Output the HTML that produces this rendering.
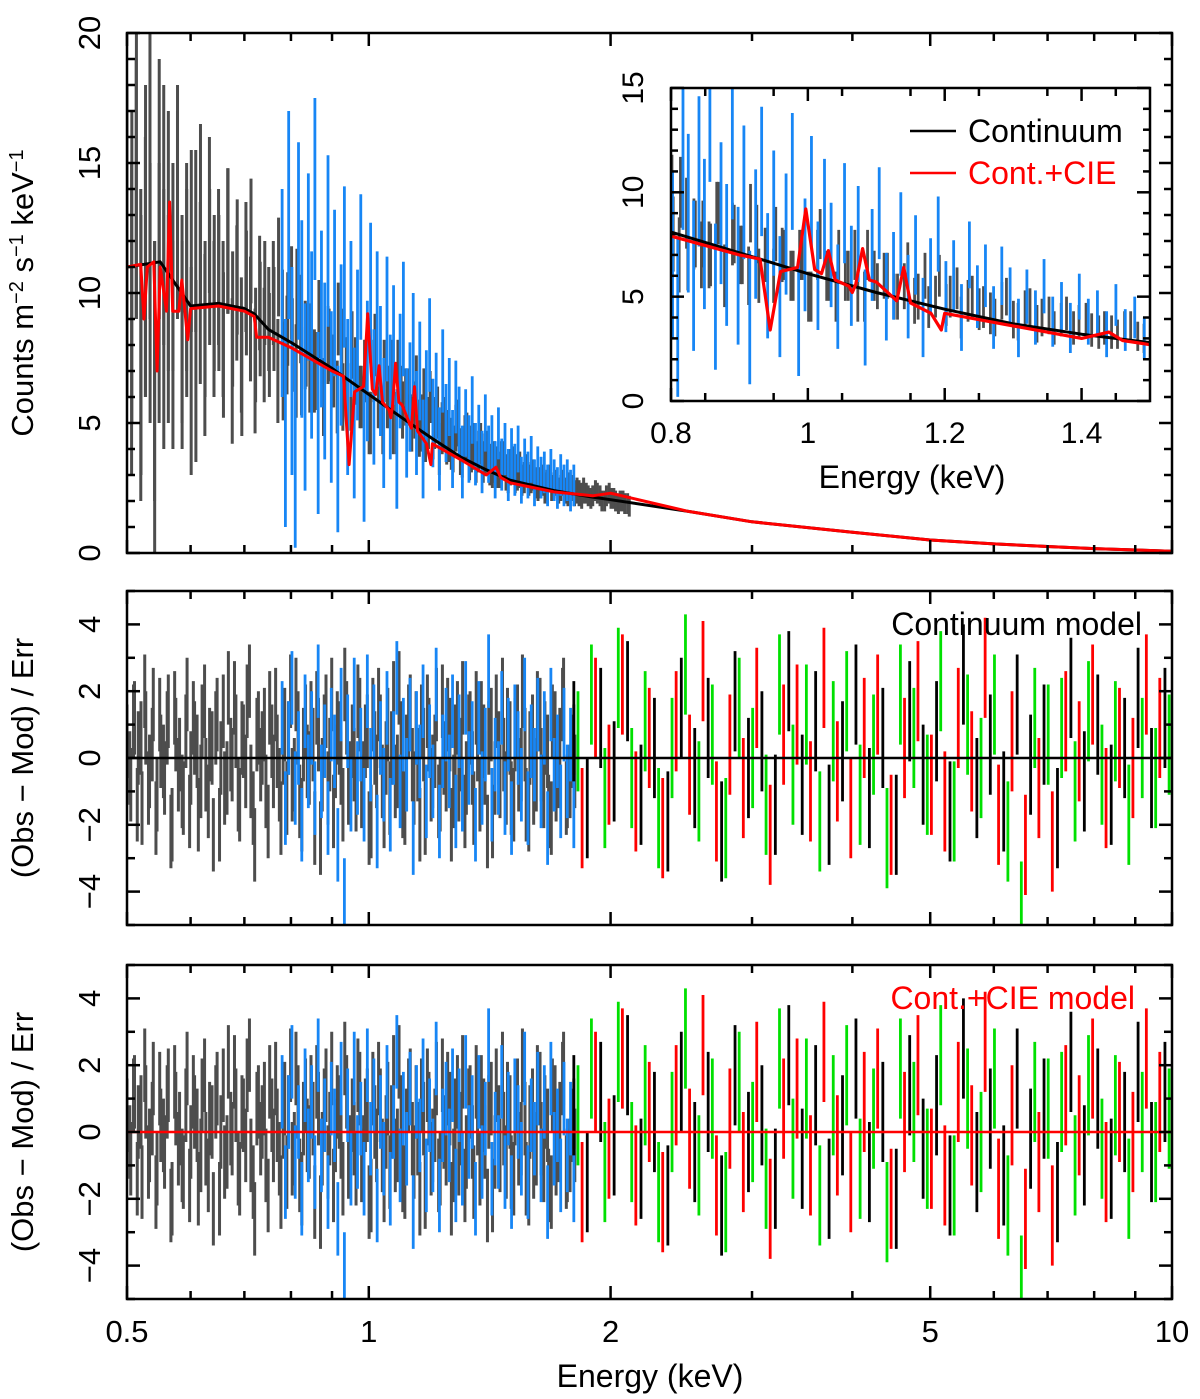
<!DOCTYPE html>
<html><head><meta charset="utf-8"><style>
html,body{margin:0;padding:0;background:#fff}
svg{display:block;font-family:"Liberation Sans",Arial,sans-serif}
</style></head><body>
<svg id="fig" width="1200" height="1399" viewBox="0 0 1200 1399" xmlns="http://www.w3.org/2000/svg">
<defs>
<clipPath id="cMain"><rect x="127" y="33" width="1045" height="520"/></clipPath>
<clipPath id="cR1"><rect x="127" y="591" width="1045" height="334"/></clipPath>
<clipPath id="cR2"><rect x="127" y="965" width="1045" height="334"/></clipPath>
<clipPath id="cIn"><rect x="671" y="88" width="479" height="313"/></clipPath>
</defs>
<g id="main"></g>
<g id="r1"></g>
<g id="r2"></g>
<g id="inset"></g>
</svg>
<script>
// ---------- data ----------
const greyRange=[0.5,2.1];
const greyRange2=[0.507,2.11];
const greyVals=[12,9,14,8,11,15,7,10,13,9,11,14,8,10,12,7,13,9,11,10,10,8,12,9,11,7,10,12,8,9,10,8,9,11,7,9,8,10,7,8,8,7,9,6,8,7,9,6,7,8,7,6,7,5,8,6,7,6,5,7,5.5,6,5,6.5,5,4.5,6,5,4,5,4.5,4,5,3.8,4.5,4,3.5,4.2,3.8,3.4,3.5,3.2,3.6,3,3.4,3.1,2.8,3.2,2.9,2.7,2.7,2.5,2.9,2.6,2.4,2.7,2.3,2.5,2.4,2.2,2.3,2.1,2.4,2.2,2.0,2.3,2.1,1.9,2.0,1.9];
const greyVals2=[11,15,8,12,10,6,14,9,12,8,13,9,11,7,12,10,8,13,9,11,9,12,7,10,8,11,9,7,10,8,9,10,7,9,8,10,7,9,8,7,7,9,6,8,7,6,8,7,6,7,6,7,5,7,6,5,6,7,5,6,6,5,5.5,4.8,6,5,4.6,5.4,4.8,4.4,4.2,4.8,3.9,4.4,3.7,4.1,3.9,3.5,3.9,3.3,3.3,3.6,3.1,3.3,3.0,3.2,2.9,2.8,3.0,2.6,2.8,2.6,2.5,2.7,2.5,2.4,2.6,2.3,2.3,2.4,2.2,2.2,2.3,2.0,2.2,2.1,2.0,2.0,1.9,1.8];
const greyErrs=[6,6,5,6,5,6,5,5,5,4,4,4,4,4,3.5,3.5,3.5,3,3,3,3,2.8,2.8,2.6,2.6,2.5,2.4,2.4,2.2,2.2,2,2,2,1.9,1.9,1.8,1.8,1.7,1.7,1.6,1.6,1.5,1.5,1.5,1.4,1.4,1.4,1.3,1.3,1.3,1.2,1.2,1.2,1.2,1.2,1.2,1.2,1.2,1.2,1.2,1.1,1.1,1.1,1.1,1.1,1,1,1,1,1,1,0.9,0.9,0.9,0.9,0.9,0.8,0.8,0.8,0.8,0.8,0.7,0.7,0.7,0.7,0.7,0.6,0.6,0.6,0.6,0.6,0.6,0.5,0.5,0.5,0.5,0.5,0.5,0.5,0.5,0.4,0.4,0.4,0.4,0.4,0.4,0.4,0.4,0.4,0.4];
const blueRange=[0.78,1.8];
const blueVals=[10,5,13,7,4,12,9,6,11,8,14,5,9,7,12,6,10,4,8,11,6,9,5,8,11,4,7,10,6,9,7,5,9,6,8,4,7,9,5,6,8,5,7,4,6,8,5,6,4,7,5,6,4,6,5,3.5,5,4,5.5,3.8,4.5,3.5,5,3.8,4.2,3.2,4.6,3.4,4,3,3.8,3.2,4,2.8,3.5,3,3.6,2.7,3.3,2.9,3.1,2.6,3.2,2.8,2.5,3,2.6,2.8,2.4,2.6];
const blueErrs=[4,4,4,4,3.8,3.8,3.8,3.6,3.6,3.6,3.5,3.5,3.4,3.4,3.3,3.3,3.2,3.2,3.1,3.1,3,3,2.9,2.9,2.8,2.8,2.7,2.7,2.6,2.6,2.5,2.5,2.4,2.4,2.3,2.3,2.2,2.2,2.1,2.1,2,2,1.9,1.9,1.8,1.8,1.7,1.7,1.6,1.6,1.5,1.5,1.5,1.4,1.4,1.4,1.3,1.3,1.3,1.2,1.2,1.2,1.1,1.1,1.1,1.1,1,1,1,1,1,1,0.9,0.9,0.9,0.9,0.9,0.9,0.8,0.8,0.8,0.8,0.8,0.8,0.8,0.8,0.8,0.8,0.8,0.8];
const contE=[0.5,0.55,0.6,0.65,0.7,0.72,0.75,0.8,0.9,1.0,1.1,1.2,1.3,1.4,1.5,1.7,1.9,2.0,2.5,3,4,5,6,7,8,10];
const contV=[11,11.2,9.5,9.6,9.4,9.2,8.6,8.1,7.1,6.1,5.2,4.4,3.7,3.2,2.8,2.4,2.15,2.05,1.6,1.2,0.8,0.5,0.35,0.25,0.17,0.07];
const cieE=[0.5,0.52,0.525,0.53,0.54,0.545,0.55,0.56,0.565,0.57,0.58,0.585,0.59,0.595,0.6,0.65,0.7,0.72,0.725,0.75,0.8,0.9,0.93,0.945,0.96,0.985,0.997,1.01,1.02,1.03,1.04,1.06,1.065,1.07,1.08,1.09,1.1,1.13,1.14,1.15,1.18,1.195,1.2,1.3,1.4,1.44,1.46,1.5,1.7,1.9,2.0,2.5,3,4,5,6,7,8,10];
const cieV=[11,11.1,9,11,11.2,7,11,9.3,13.5,9.3,9.3,10.5,9.4,8.2,9.4,9.5,9.3,9.1,8.3,8.3,7.9,7.0,6.8,3.4,6.2,6.4,9.2,6.3,6.1,7.2,5.8,5.5,5.2,5.6,7.3,5.8,5.7,4.8,6.4,4.7,4.2,3.4,4.2,3.6,3.0,3.3,2.9,2.7,2.35,2.2,2.3,1.6,1.2,0.8,0.5,0.35,0.25,0.17,0.07];
const resGreyRange=[0.5,1.8];
const resGreyRange2=[0.504,1.805];
const resGrey=[0.5,-0.8,1.2,0.3,-1.5,0.9,-0.4,1.6,-1.1,0.2,-0.6,1.4,-2.0,0.7,0.1,-1.2,1.9,-0.3,0.6,-1.7,1.1,-0.5,0.4,-2.3,1.3,0.0,-0.9,2.1,-0.2,0.8,-1.4,0.5,1.7,-0.7,-2.6,0.9,0.3,-1.0,1.5,-0.4,0.2,-1.8,1.0,0.6,-0.8,1.9,-1.3,0.4,-0.1,1.2,-2.1,0.7,-0.5,1.4,0.1,-1.6,0.9,-0.3,2.2,-0.9,0.5,-1.1,1.3,-0.6,0.8,-1.9,0.3,1.6,-0.7,0.0,-1.2,1.8,-0.4,0.6,-1.5,1.1,-0.2,0.9,-2.0,0.4,1.4,-0.8,0.2,-1.3,1.7,-0.5,0.7,-1.0,1.2,0.1,-1.6,0.8,-0.3,1.5,-1.1,0.5,-2.2,1.0,-0.6,0.3,1.9,-0.9,0.6,-1.4,1.1,-0.2,0.4,-1.7,0.8,-0.5,1.3,-1.0,0.2,-1.8,0.9,-0.4,1.6,-1.2,-0.7,0.5];
const resGrey2=[-0.3,1.1,-1.4,0.6,2.0,-0.9,0.4,-1.8,1.3,-0.1,0.9,-2.2,1.5,-0.5,-1.0,0.8,-1.6,1.2,0.2,-0.7,1.7,-1.3,0.3,0.9,-2.0,1.4,-0.6,0.1,1.8,-1.1,0.6,-0.4,2.3,-1.5,0.7,-0.2,1.0,-1.9,0.5,1.6,-0.8,0.3,-1.2,2.0,-0.5,0.9,-1.7,1.1,-0.3,0.4,1.5,-2.4,0.8,-0.9,1.9,-0.1,0.6,-1.4,1.2,-0.6,-0.2,1.7,-1.0,0.5,-2.1,1.3,-0.4,0.8,-1.6,1.0,0.3,-0.7,2.1,-1.3,0.2,1.4,-0.9,-0.2,1.1,-1.8,0.7,-0.4,1.6,-1.1,0.0,1.3,-2.0,0.5,-0.8,1.8,-0.6,0.9,-1.5,0.4,1.2,-0.3,0.6,-1.9,1.4,-0.7,0.1,1.0,-1.2,0.7,-0.5,2.0,-1.4,0.3,-0.9,1.5,-0.2,0.6,-1.6,1.1,-0.8,0.4,1.9,-1.0,0.2,-0.4];
const resBlueRange=[0.78,1.8];
const resBlue=[1.2,-1.5,0.6,2.1,-0.9,0.3,-2.0,1.4,-0.4,0.9,-1.2,2.3,-0.7,0.5,-1.8,1.0,0.2,-2.6,1.6,-4.1,0.8,-1.1,1.9,-0.6,0.4,-1.4,2.0,-0.2,1.1,-2.2,0.6,-0.8,1.5,-1.7,0.3,2.4,-1.0,0.7,-0.5,1.3,-2.4,0.9,-0.1,1.7,-1.3,0.5,-0.7,2.2,-1.9,0.2,1.0,-0.4,1.4,-1.6,0.8,-1.1,1.8,-0.3,0.6,-2.0,1.2,-0.9,0.4,2.6,-1.4,0.1,-0.6,1.5,-1.2,0.7,-1.8,1.1,0.3,-0.8,1.9,-1.5,0.5,-0.2,1.3,-1.0,0.9,-2.1,1.6,-0.5,0.2,-1.3,1.0,-0.7,0.4,-1.6];
const resHiRange=[1.8,9.8];
const resBlack=[0.8,-1.5,1.2,-0.4,2.0,-1.1,0.3,-1.9,1.5,-0.6,0.9,-2.2,1.7,-0.3,0.5,-1.4,2.3,-0.8,1.1,-1.7,0.2,1.9,-1.2,0.6,-2.0,1.4,-0.5,0.8,-1.6,2.5,-0.9,0.4,-1.3,1.6,-0.2,0.7,-1.8,2.1,-0.7,1.0,-1.1,0.3,1.8,-0.6,1.2];
const resRed=[-1.8,1.5,-0.5,2.2,-1.3,0.6,-2.1,1.1,-0.2,2.6,-1.6,0.4,-0.9,1.8,-2.3,0.7,1.3,-1.0,2.4,-0.4,-1.5,0.9,1.6,-2.0,0.3,2.0,-0.8,-1.3,1.2,-0.1,2.7,-1.7,0.5,-2.6,-0.9,-2.5,1.1,0.2,1.9,-1.2,0.6,-0.3,2.2,0.9,1.5];
const resGreen=[0.5,1.9,-1.2,2.4,-0.6,1.1,-1.8,0.3,2.8,-1.0,0.7,-2.1,1.5,0.0,-1.4,2.2,-0.5,1.3,-1.9,0.8,1.7,-1.1,0.4,-2.4,1.9,0.6,-0.8,2.3,-1.6,1.0,-0.3,1.6,-2.2,-4.6,1.2,0.7,0.9,-1.0,1.4,-0.5,0.8,-1.7,0.3,-0.6,0.4];
const mainYTicks=[0,5,10,15,20];
const resYTicks=[-4,-2,0,2,4];
const xTickVals=[0.5,1,2,5,10];
const xTickLabels=["0.5","1","2","5","10"];
const xMinor=[0.6,0.7,0.8,0.9,3,4,6,7,8,9];
const insetXTicks=[0.8,1.0,1.2,1.4];
const insetXLabels=["0.8","1","1.2","1.4"];
const insetYTicks=[0,5,10,15];

// ---------- helpers ----------
const NS="http://www.w3.org/2000/svg";
function mk(parent,tag,attrs,text){const e=document.createElementNS(NS,tag);for(const k in attrs)e.setAttribute(k,attrs[k]);if(text!==undefined)e.textContent=text;parent.appendChild(e);return e;}
const X0=127,X1=1172;
const xL=E=>X0+(X1-X0)*Math.log10(E/0.5)/Math.log10(20);
const yMain=v=>553-26*v;
const yR1=v=>758-33.4*v;
const yR2=v=>1132-33.4*v;
const xIn=E=>671+(E-0.8)/0.7*479;
const yIn=v=>401-20.87*v;
const gridE=(r,n,i)=>r[0]*Math.pow(r[1]/r[0],i/(n-1));
const C={grey:"#4d4d4d",blue:"#1786f5",red:"#ff0000",green:"#00e000",black:"#000"};

function bars(g,range,vals,errs,xf,yf,color,name,clip,filt,w){
  const gg=mk(g,"g",{"clip-path":clip});
  
  
  vals.forEach((v,i)=>{const E=gridE(range,vals.length,i);if(filt&&!filt(E))return;
    const e=Array.isArray(errs)?errs[i]:errs;
    const l=mk(gg,"line",{x1:xf(E),x2:xf(E),y1:yf(v-e),y2:yf(v+e),stroke:color,"stroke-width":w||2.8});
    
    
  });
}
function curve(g,Es,Vs,xf,yf,color,w,name,clip,filt){
  let d="";Es.forEach((E,i)=>{if(filt&&!filt(E))return;d+=(d?"L":"M")+xf(E).toFixed(1)+","+yf(Vs[i]).toFixed(1);});
  const p=mk(g,"path",{d:d,fill:"none",stroke:color,"stroke-width":w,"clip-path":clip,"stroke-linejoin":"round"});
  
  
}
function frame(g,x,y,w,h,name){const r=mk(g,"rect",{x:x,y:y,width:w,height:h,fill:"none",stroke:"#000","stroke-width":2.5});}
function xTicks(g,top,bot,labels){
  xTickVals.forEach((E,i)=>{const x=xL(E);mk(g,"line",{x1:x,x2:x,y1:bot,y2:bot-13,stroke:"#000","stroke-width":2.5});mk(g,"line",{x1:x,x2:x,y1:top,y2:top+13,stroke:"#000","stroke-width":2.5});
    if(labels){const t=mk(g,"text",{x:x,y:1342,"font-size":31,"text-anchor":"middle"},xTickLabels[i]);}});
  xMinor.forEach(E=>{const x=xL(E);mk(g,"line",{x1:x,x2:x,y1:bot,y2:bot-8,stroke:"#000","stroke-width":2.5});mk(g,"line",{x1:x,x2:x,y1:top,y2:top+8,stroke:"#000","stroke-width":2.5});});
}
function yTicks(g,ticks,yf,lo,hi,lx,fs){
  for(let v=lo;v<=hi;v++){const y=yf(v);const maj=ticks.includes(v);const L=maj?13:8;
    mk(g,"line",{x1:X0,x2:X0+L,y1:y,y2:y,stroke:"#000","stroke-width":2.5});mk(g,"line",{x1:X1,x2:X1-L,y1:y,y2:y,stroke:"#000","stroke-width":2.5});}
  ticks.forEach(v=>{const y=yf(v);const t=mk(g,"text",{x:lx,y:y,"font-size":fs,"text-anchor":"middle",transform:`rotate(-90 ${lx} ${y})`},String(v).replace("-","\u2212"));});
}
function ytitle(g,y,txt,name){const t=mk(g,"text",{x:33,y:y,"font-size":31,"text-anchor":"middle",transform:`rotate(-90 33 ${y})`});t.innerHTML=txt;}

// ---------- main panel ----------
const gM=document.getElementById("main");
bars(gM,greyRange,greyVals,greyErrs,xL,yMain,C.grey,"grey-spectrum","url(#cMain)",null,3);
bars(gM,greyRange2,greyVals2,greyErrs,xL,yMain,C.grey,"grey-spectrum-b","url(#cMain)",null,3);
bars(gM,blueRange,blueVals,blueErrs,xL,yMain,C.blue,"blue-spectrum","url(#cMain)");
curve(gM,contE,contV,xL,yMain,C.black,3,"continuum-model-line","url(#cMain)");
curve(gM,cieE,cieV,xL,yMain,C.red,3,"cie-model-line","url(#cMain)");
frame(gM,127,33,1045,520,"spectrum-frame");
xTicks(gM,33,553,false);
yTicks(gM,mainYTicks,yMain,0,20,100,31);
ytitle(gM,293,'Counts m<tspan dy="-10" font-size="20">−2</tspan><tspan dy="10"> s</tspan><tspan dy="-10" font-size="20">−1</tspan><tspan dy="10"> keV</tspan><tspan dy="-10" font-size="20">−1</tspan>',"spectrum-y-title");

// ---------- residual panels ----------
function resPanel(g,yf,top,clip,lineColor,label,labelColor,lx){
  bars(g,resGreyRange,resGrey,1.1,xL,yf,C.grey,"grey-residuals",clip,null,3);
  bars(g,resGreyRange2,resGrey2,1.1,xL,yf,C.grey,"grey-residuals-b",clip,null,3);
  bars(g,resBlueRange,resBlue,1.1,xL,yf,C.blue,"blue-residuals",clip);
  bars(g,resHiRange,resGreen,1.5,E=>xL(E*1.012),yf,C.green,"green-residuals",clip);
  bars(g,resHiRange,resRed,1.5,E=>xL(E*1.024),yf,C.red,"red-residuals",clip);
  bars(g,resHiRange,resBlack,1.5,xL,yf,C.black,"black-residuals",clip);
  const z=mk(g,"line",{x1:X0,x2:X1,y1:yf(0),y2:yf(0),stroke:lineColor,"stroke-width":2.5});
  frame(g,127,top,1045,334,"residual-frame");
  xTicks(g,top,top+334,top>900);
  yTicks(g,resYTicks,yf,-5,5,100,31);
  ytitle(g,yf(0),"(Obs − Mod) / Err","residual-y-title");
  const t=mk(g,"text",{x:lx,y:top+44,"font-size":32,"text-anchor":"end",fill:labelColor},label);
}
resPanel(document.getElementById("r1"),yR1,591,"url(#cR1)","#000","Continuum model","#000",1142);
resPanel(document.getElementById("r2"),yR2,965,"url(#cR2)","#ff0000","Cont.+CIE model","#ff0000",1135);
{const t=mk(document.getElementById("r2"),"text",{x:650,y:1387,"font-size":32,"text-anchor":"middle"},"Energy (keV)");}

// ---------- inset ----------
const gI=document.getElementById("inset");
mk(gI,"rect",{x:671,y:88,width:479,height:313,fill:"#fff"});
const inR=E=>E>=0.78&&E<=1.52;
bars(gI,greyRange,greyVals,greyErrs,xIn,yIn,C.grey,"inset-grey-spectrum","url(#cIn)",inR);
bars(gI,greyRange2,greyVals2,greyErrs,xIn,yIn,C.grey,"inset-grey-spectrum-b","url(#cIn)",inR);
bars(gI,blueRange,blueVals,blueErrs,xIn,yIn,C.blue,"inset-blue-spectrum","url(#cIn)",inR);
curve(gI,contE,contV,xIn,yIn,C.black,3,"inset-continuum-line","url(#cIn)",E=>E>=0.75&&E<=1.6);
curve(gI,cieE,cieV,xIn,yIn,C.red,3.2,"inset-cie-line","url(#cIn)",E=>E>=0.75&&E<=1.6);
frame(gI,671,88,479,313,"inset-frame");
insetXTicks.forEach((E,i)=>{const x=xIn(E);mk(gI,"line",{x1:x,x2:x,y1:401,y2:388,stroke:"#000","stroke-width":2.5});mk(gI,"line",{x1:x,x2:x,y1:88,y2:101,stroke:"#000","stroke-width":2.5});
  const t=mk(gI,"text",{x:x,y:443,"font-size":30,"text-anchor":"middle"},insetXLabels[i]);});
for(let E=0.85;E<1.5;E+=0.1){const x=xIn(E);mk(gI,"line",{x1:x,x2:x,y1:401,y2:393,stroke:"#000","stroke-width":2.5});mk(gI,"line",{x1:x,x2:x,y1:88,y2:96,stroke:"#000","stroke-width":2.5});}
for(let v=0;v<=15;v++){const y=yIn(v);const maj=insetYTicks.includes(v);const L=maj?13:7;mk(gI,"line",{x1:671,x2:671+L,y1:y,y2:y,stroke:"#000","stroke-width":2.5});mk(gI,"line",{x1:1150,x2:1150-L,y1:y,y2:y,stroke:"#000","stroke-width":2.5});}
insetYTicks.forEach(v=>{const y=yIn(v);const t=mk(gI,"text",{x:643,y:y,"font-size":30,"text-anchor":"middle",transform:`rotate(-90 643 ${y})`},String(v));});
{const t=mk(gI,"text",{x:912,y:488,"font-size":32,"text-anchor":"middle"},"Energy (keV)");}
{const lg=mk(gI,"g",{});
 mk(lg,"line",{x1:910,x2:956,y1:131,y2:131,stroke:"#000","stroke-width":2.5});
 const a=mk(lg,"text",{x:968,y:142,"font-size":32},"Continuum");
 mk(lg,"line",{x1:910,x2:956,y1:173,y2:173,stroke:"#ff0000","stroke-width":2.5});
 const b=mk(lg,"text",{x:968,y:184,"font-size":32,fill:"#ff0000"},"Cont.+CIE");}
</script>
</body></html>
